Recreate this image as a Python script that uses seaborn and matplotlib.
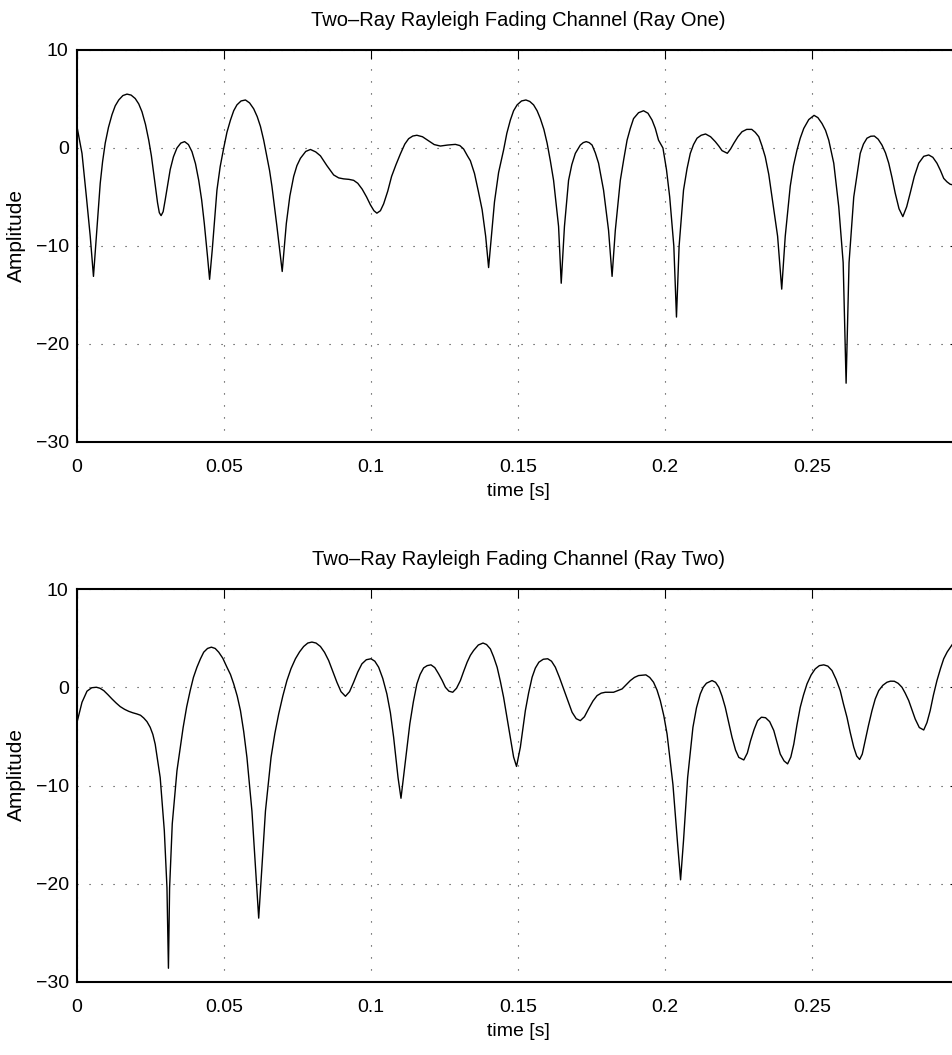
import matplotlib
matplotlib.use("Agg")
import matplotlib.pyplot as plt
import pandas as pd
import seaborn as sns

# ---- Data ----
t_ray1 = [0.0, 0.0017, 0.0032, 0.0045, 0.0056, 0.0066, 0.0079, 0.0096, 0.0119, 0.0142,
          0.0170, 0.0198, 0.0221, 0.0244, 0.0261, 0.0274, 0.0286, 0.0300, 0.0317, 0.0340,
          0.0366, 0.0391, 0.0414, 0.0433, 0.0444, 0.0451, 0.0460, 0.0476, 0.0499, 0.0522,
          0.0544, 0.0573, 0.0601, 0.0624, 0.0646, 0.0663, 0.0680, 0.0698, 0.0712, 0.0737,
          0.0760, 0.0778, 0.0794, 0.0812, 0.0828, 0.0850, 0.0873, 0.0890, 0.0907, 0.0925,
          0.0941, 0.0955, 0.0970, 0.0985, 0.0998, 0.1010, 0.1020, 0.1032, 0.1043, 0.1057,
          0.1070, 0.1085, 0.1100, 0.1115, 0.1128, 0.1142, 0.1156, 0.1175, 0.1195, 0.1215,
          0.1236, 0.1260, 0.1287, 0.1302, 0.1315, 0.1328, 0.1338, 0.1352, 0.1365, 0.1378,
          0.1390, 0.1400, 0.1408, 0.1420, 0.1434, 0.1451, 0.1474, 0.1497, 0.1527, 0.1553,
          0.1576, 0.1599, 0.1621, 0.1638, 0.1647, 0.1658, 0.1672, 0.1695, 0.1712, 0.1732,
          0.1752, 0.1774, 0.1791, 0.1808, 0.1820, 0.1831, 0.1848, 0.1871, 0.1893, 0.1927,
          0.1956, 0.1978, 0.1993, 0.2016, 0.2030, 0.2039, 0.2048, 0.2063, 0.2086, 0.2109,
          0.2138, 0.2171, 0.2194, 0.2212, 0.2234, 0.2262, 0.2295, 0.2319, 0.2341, 0.2364,
          0.2383, 0.2397, 0.2409, 0.2426, 0.2449, 0.2472, 0.2507, 0.2534, 0.2557, 0.2574,
          0.2591, 0.2606, 0.2616, 0.2626, 0.2642, 0.2664, 0.2687, 0.2712, 0.2738, 0.2761,
          0.2783, 0.2809, 0.2834, 0.2863, 0.2897, 0.2925, 0.2948, 0.2970, 0.3000]
amp_ray1 = [2.17, -0.55, -5.0, -9.0, -13.1, -9.0, -3.6, 0.5, 3.4, 4.9,
            5.5, 5.05, 3.7, 0.8, -2.6, -5.6, -6.9, -5.3, -2.2, 0.0,
            0.65, -0.37, -3.3, -7.7, -11.1, -13.4, -10.4, -4.3, 0.0, 2.85,
            4.4, 4.9, 4.0, 2.2, -0.9, -3.9, -8.0, -12.6, -7.7, -2.9,
            -1.05, -0.35, -0.15, -0.4, -0.8, -1.8, -2.75, -3.05, -3.15, -3.2,
            -3.3, -3.6, -4.2, -5.0, -5.8, -6.4, -6.65, -6.4, -5.7, -4.4,
            -2.9, -1.7, -0.6, 0.4, 0.95, 1.22, 1.3, 1.15, 0.75, 0.35,
            0.2, 0.3, 0.37, 0.25, -0.1, -0.8, -1.3, -2.6, -4.4, -6.3,
            -9.0, -12.2, -9.5, -5.5, -2.5, -0.2, 2.85, 4.4, 4.9, 4.4,
            3.0, 0.5, -3.3, -8.0, -13.8, -8.0, -3.3, -0.55, 0.3, 0.65,
            0.3, -1.55, -4.3, -8.4, -13.1, -8.4, -3.3, 0.8, 3.0, 3.8,
            2.85, 0.8, 0.0, -5.0, -10.0, -17.25, -10.0, -4.3, -0.55, 1.0,
            1.43, 0.65, -0.27, -0.54, 0.48, 1.66, 1.9, 1.15, -0.9, -5.0,
            -9.0, -14.4, -9.0, -3.9, -0.2, 2.0, 3.33, 2.5, 0.8, -1.55,
            -6.0, -11.7, -24.0, -11.7, -5.0, -0.55, 1.0, 1.22, 0.3, -1.55,
            -4.6, -7.0, -4.6, -1.55, -0.71, -1.55, -3.1, -3.7, -3.9]
# extra readings on the rounded parts of Ray One
t_ray1_extra = [0.0087, 0.0107, 0.0130, 0.0156, 0.0184, 0.0210, 0.0233, 0.0253, 0.0280, 0.0293,
                0.0328, 0.0353, 0.0379, 0.0403, 0.0424, 0.0487, 0.0510, 0.0533, 0.0558, 0.0587,
                0.0613, 0.0635, 0.0655, 0.0724, 0.0748, 0.1462, 0.1485, 0.1512, 0.1540, 0.1565,
                0.1588, 0.1610, 0.1683, 0.1722, 0.1742, 0.1763, 0.1860, 0.1882, 0.1910, 0.1942,
                0.1967, 0.2005, 0.2075, 0.2097, 0.2123, 0.2155, 0.2183, 0.2223, 0.2248, 0.2278,
                0.2307, 0.2330, 0.2353, 0.2437, 0.2460, 0.2489, 0.2520, 0.2546, 0.2675, 0.2700,
                0.2725, 0.2750, 0.2772, 0.2796, 0.2822, 0.2848, 0.2880, 0.2911, 0.2937, 0.2959]
amp_ray1_extra = [-1.4, 2.1, 4.3, 5.35, 5.4, 4.5, 2.4, -0.8, -6.6, -6.5,
                  -0.9, 0.5, 0.35, -1.6, -5.3, -1.9, 1.6, 3.8, 4.8, 4.6,
                  3.2, 0.8, -2.3, -4.9, -1.8, 1.5, 3.8, 4.8, 4.75, 3.8,
                  1.9, -1.3, -1.7, 0.55, 0.55, -0.5, -1.1, 2.0, 3.6, 3.55,
                  2.0, -2.2, -2.1, 0.35, 1.3, 1.15, 0.2, -0.1, 1.15, 1.9,
                  1.6, 0.2, -2.7, -1.8, 1.0, 2.9, 3.1, 1.8, 0.4, 1.2,
                  0.9, -0.5, -3.0, -6.2, -6.0, -2.9, -0.85, -0.95, -2.3, -3.45]

t_ray2 = [0.0, 0.0017, 0.0034, 0.0066, 0.0091, 0.0119, 0.0147, 0.0176, 0.0204, 0.0227,
          0.0249, 0.0266, 0.0283, 0.0297, 0.0306, 0.0311, 0.0315, 0.0324, 0.0340, 0.0361,
          0.0385, 0.0408, 0.0431, 0.0457, 0.0482, 0.0510, 0.0533, 0.0556, 0.0578, 0.0595,
          0.0610, 0.0618, 0.0626, 0.0641, 0.0660, 0.0686, 0.0714, 0.0743, 0.0771, 0.0799,
          0.0828, 0.0856, 0.0884, 0.0913, 0.0941, 0.0969, 0.1000, 0.1026, 0.1054, 0.1077,
          0.1092, 0.1102, 0.1113, 0.1132, 0.1156, 0.1179, 0.1204, 0.1230, 0.1253, 0.1278,
          0.1304, 0.1327, 0.1349, 0.1381, 0.1406, 0.1429, 0.1451, 0.1468, 0.1485, 0.1495,
          0.1508, 0.1525, 0.1548, 0.1571, 0.1601, 0.1627, 0.1655, 0.1684, 0.1712, 0.1740,
          0.1769, 0.1797, 0.1825, 0.1854, 0.1882, 0.1910, 0.1935, 0.1961, 0.1984, 0.2007,
          0.2027, 0.2043, 0.2053, 0.2063, 0.2077, 0.2095, 0.2120, 0.2141, 0.2160, 0.2183,
          0.2205, 0.2228, 0.2251, 0.2268, 0.2291, 0.2315, 0.2342, 0.2370, 0.2392, 0.2417,
          0.2438, 0.2460, 0.2483, 0.2511, 0.2540, 0.2568, 0.2596, 0.2619, 0.2642, 0.2662,
          0.2681, 0.2704, 0.2727, 0.2755, 0.2780, 0.2806, 0.2829, 0.2851, 0.2880, 0.2902,
          0.2925, 0.2948, 0.2971, 0.2985, 0.3000]
amp_ray2 = [-3.57, -1.53, -0.4, 0.0, -0.34, -1.19, -1.97, -2.45, -2.72, -3.13,
            -4.08, -5.8, -9.2, -14.6, -20.4, -28.6, -20.4, -13.9, -8.5, -4.1,
            -0.34, 2.04, 3.57, 4.08, 3.57, 2.04, 0.34, -2.38, -7.14, -12.6,
            -19.7, -23.5, -19.7, -12.6, -7.14, -2.72, 0.68, 2.9, 4.15, 4.6,
            4.15, 2.72, 0.51, -0.92, 0.51, 2.38, 2.9, 2.04, -0.68, -5.1,
            -9.2, -11.3, -8.5, -3.74, 0.34, 1.97, 2.28, 1.36, 0.0, -0.51,
            0.68, 2.55, 3.74, 4.5, 3.9, 2.04, -1.02, -4.08, -7.1, -8.06,
            -6.1, -2.38, 1.02, 2.55, 2.9, 2.04, -0.17, -2.55, -3.4, -2.2,
            -0.85, -0.51, -0.51, -0.17, 0.68, 1.19, 1.26, 0.51, -1.36, -4.76,
            -9.9, -16.0, -19.6, -15.6, -9.2, -4.08, -0.68, 0.41, 0.68, 0.0,
            -2.04, -5.1, -7.14, -7.4, -5.44, -3.4, -3.1, -4.4, -6.8, -7.8,
            -5.8, -2.04, 0.34, 1.87, 2.28, 1.7, -0.34, -3.06, -6.1, -7.35,
            -5.44, -2.38, -0.34, 0.51, 0.61, 0.0, -1.36, -3.23, -4.35, -2.38,
            0.68, 2.9, 4.08, 4.7, 5.0]
# extra readings on the rounded parts of Ray Two
t_ray2_extra = [0.0050, 0.0078, 0.0105, 0.0133, 0.0162, 0.0190, 0.0216, 0.0238, 0.0258, 0.0373,
                0.0396, 0.0420, 0.0444, 0.0470, 0.0496, 0.0522, 0.0545, 0.0567, 0.0673, 0.0700,
                0.0728, 0.0757, 0.0785, 0.0813, 0.0842, 0.0870, 0.0898, 0.0927, 0.0955, 0.0984,
                0.1013, 0.1040, 0.1066, 0.1144, 0.1167, 0.1191, 0.1217, 0.1242, 0.1265, 0.1291,
                0.1315, 0.1338, 0.1365, 0.1393, 0.1417, 0.1440, 0.1536, 0.1559, 0.1586, 0.1614,
                0.1641, 0.1670, 0.1698, 0.1726, 0.1755, 0.1783, 0.1896, 0.1948, 0.1973, 0.1996,
                0.2107, 0.2130, 0.2172, 0.2194, 0.2216, 0.2240, 0.2280, 0.2303, 0.2328, 0.2356,
                0.2381, 0.2405, 0.2428, 0.2449, 0.2471, 0.2497, 0.2525, 0.2554, 0.2582, 0.2607,
                0.2630, 0.2652, 0.2671, 0.2692, 0.2715, 0.2741, 0.2767, 0.2793, 0.2817, 0.2840,
                0.2865, 0.2891, 0.2913, 0.2937, 0.2960]
amp_ray2_extra = [-0.05, -0.1, -0.75, -1.6, -2.25, -2.6, -2.85, -3.5, -4.8, -2.0,
                  1.0, 2.9, 3.95, 3.95, 2.95, 1.3, -0.9, -4.5, -4.7, -0.9,
                  1.9, 3.6, 4.5, 4.5, 3.55, 1.6, -0.45, -0.45, 1.55, 2.8,
                  2.65, 0.9, -2.6, -1.5, 1.3, 2.2, 2.0, 0.7, -0.4, -0.1,
                  1.6, 3.25, 4.3, 4.35, 3.1, 0.6, -0.6, 1.95, 2.85, 2.65,
                  1.0, -1.4, -3.2, -3.0, -1.4, -0.6, 1.0, 1.0, -0.3, -2.9,
                  -2.1, 0.0, 0.5, -0.9, -3.5, -6.4, -6.7, -4.3, -3.05, -3.5,
                  -5.6, -7.5, -7.1, -3.8, -0.8, 1.25, 2.2, 2.15, 0.8, -1.7,
                  -4.6, -7.0, -6.8, -3.9, -1.2, 0.2, 0.62, 0.4, -0.6, -2.3,
                  -4.1, -3.6, -0.8, 1.9, 3.6]

titles = ["Two\u2013Ray Rayleigh Fading Channel (Ray One)",
          "Two\u2013Ray Rayleigh Fading Channel (Ray Two)"]
x_ticks = [0, 0.05, 0.1, 0.15, 0.2, 0.25, 0.3]
x_tick_labels = ["0", "0.05", "0.1", "0.15", "0.2", "0.25", ""]
y_ticks = [-30, -20, -10, 0, 10]
y_tick_labels = ["\u221230", "\u221220", "\u221210", "0", "10"]
x_label = "time [s]"
y_label = "Amplitude"


def build_table(t_main, a_main, t_extra, a_extra):
    df = pd.DataFrame({"time": list(t_main) + list(t_extra),
                       "amplitude": list(a_main) + list(a_extra)})
    return df.sort_values("time").reset_index(drop=True)


tables = [build_table(t_ray1, amp_ray1, t_ray1_extra, amp_ray1_extra),
          build_table(t_ray2, amp_ray2, t_ray2_extra, amp_ray2_extra)]

# ---- Style ----
sns.set_style("white")
plt.rcParams["font.family"] = ["Liberation Sans", "DejaVu Sans"]
plt.rcParams["axes.unicode_minus"] = True

W, H = 952, 1055
fig = plt.figure(figsize=(W / 100, H / 100), dpi=100)
fig.patch.set_facecolor("white")

left = 77 / W
width = 882 / W
axes_boxes = [(1 - 442 / H, 392 / H), (1 - 982 / H, 393 / H)]

for (bottom, height), df, title in zip(axes_boxes, tables, titles):
    ax = fig.add_axes([left, bottom, width, height])
    sns.lineplot(data=df, x="time", y="amplitude", ax=ax, color="black",
                 linewidth=1.0, estimator=None, sort=False)
    ax.set_xlim(0, 0.3)
    ax.set_ylim(-30, 10)
    ax.set_xticks(x_ticks)
    ax.set_xticklabels(x_tick_labels)
    ax.set_yticks(y_ticks)
    ax.set_yticklabels(y_tick_labels)
    ax.grid(True, color="#333333", linestyle=(0, (1, 9.8)), linewidth=0.8)
    for sp in ax.spines.values():
        sp.set_visible(True)
        sp.set_color("black")
        sp.set_linewidth(1.5)
    ax.tick_params(axis="both", which="major", direction="in", length=6.5,
                   width=0.8, color="black", top=True, right=True,
                   labelsize=14, labelcolor="black")
    ax.tick_params(axis="x", pad=12)
    ax.tick_params(axis="y", pad=6)
    ax.set_title(title, fontsize=14.5, pad=17, color="black")
    ax.set_xlabel(x_label, fontsize=14, labelpad=5, color="black")
    ax.set_ylabel(y_label, fontsize=15, color="black")
    ax.yaxis.set_label_coords(-0.058, 0.528)
    ax.set_facecolor("white")

fig.savefig("out.png", dpi=100, facecolor="white")
